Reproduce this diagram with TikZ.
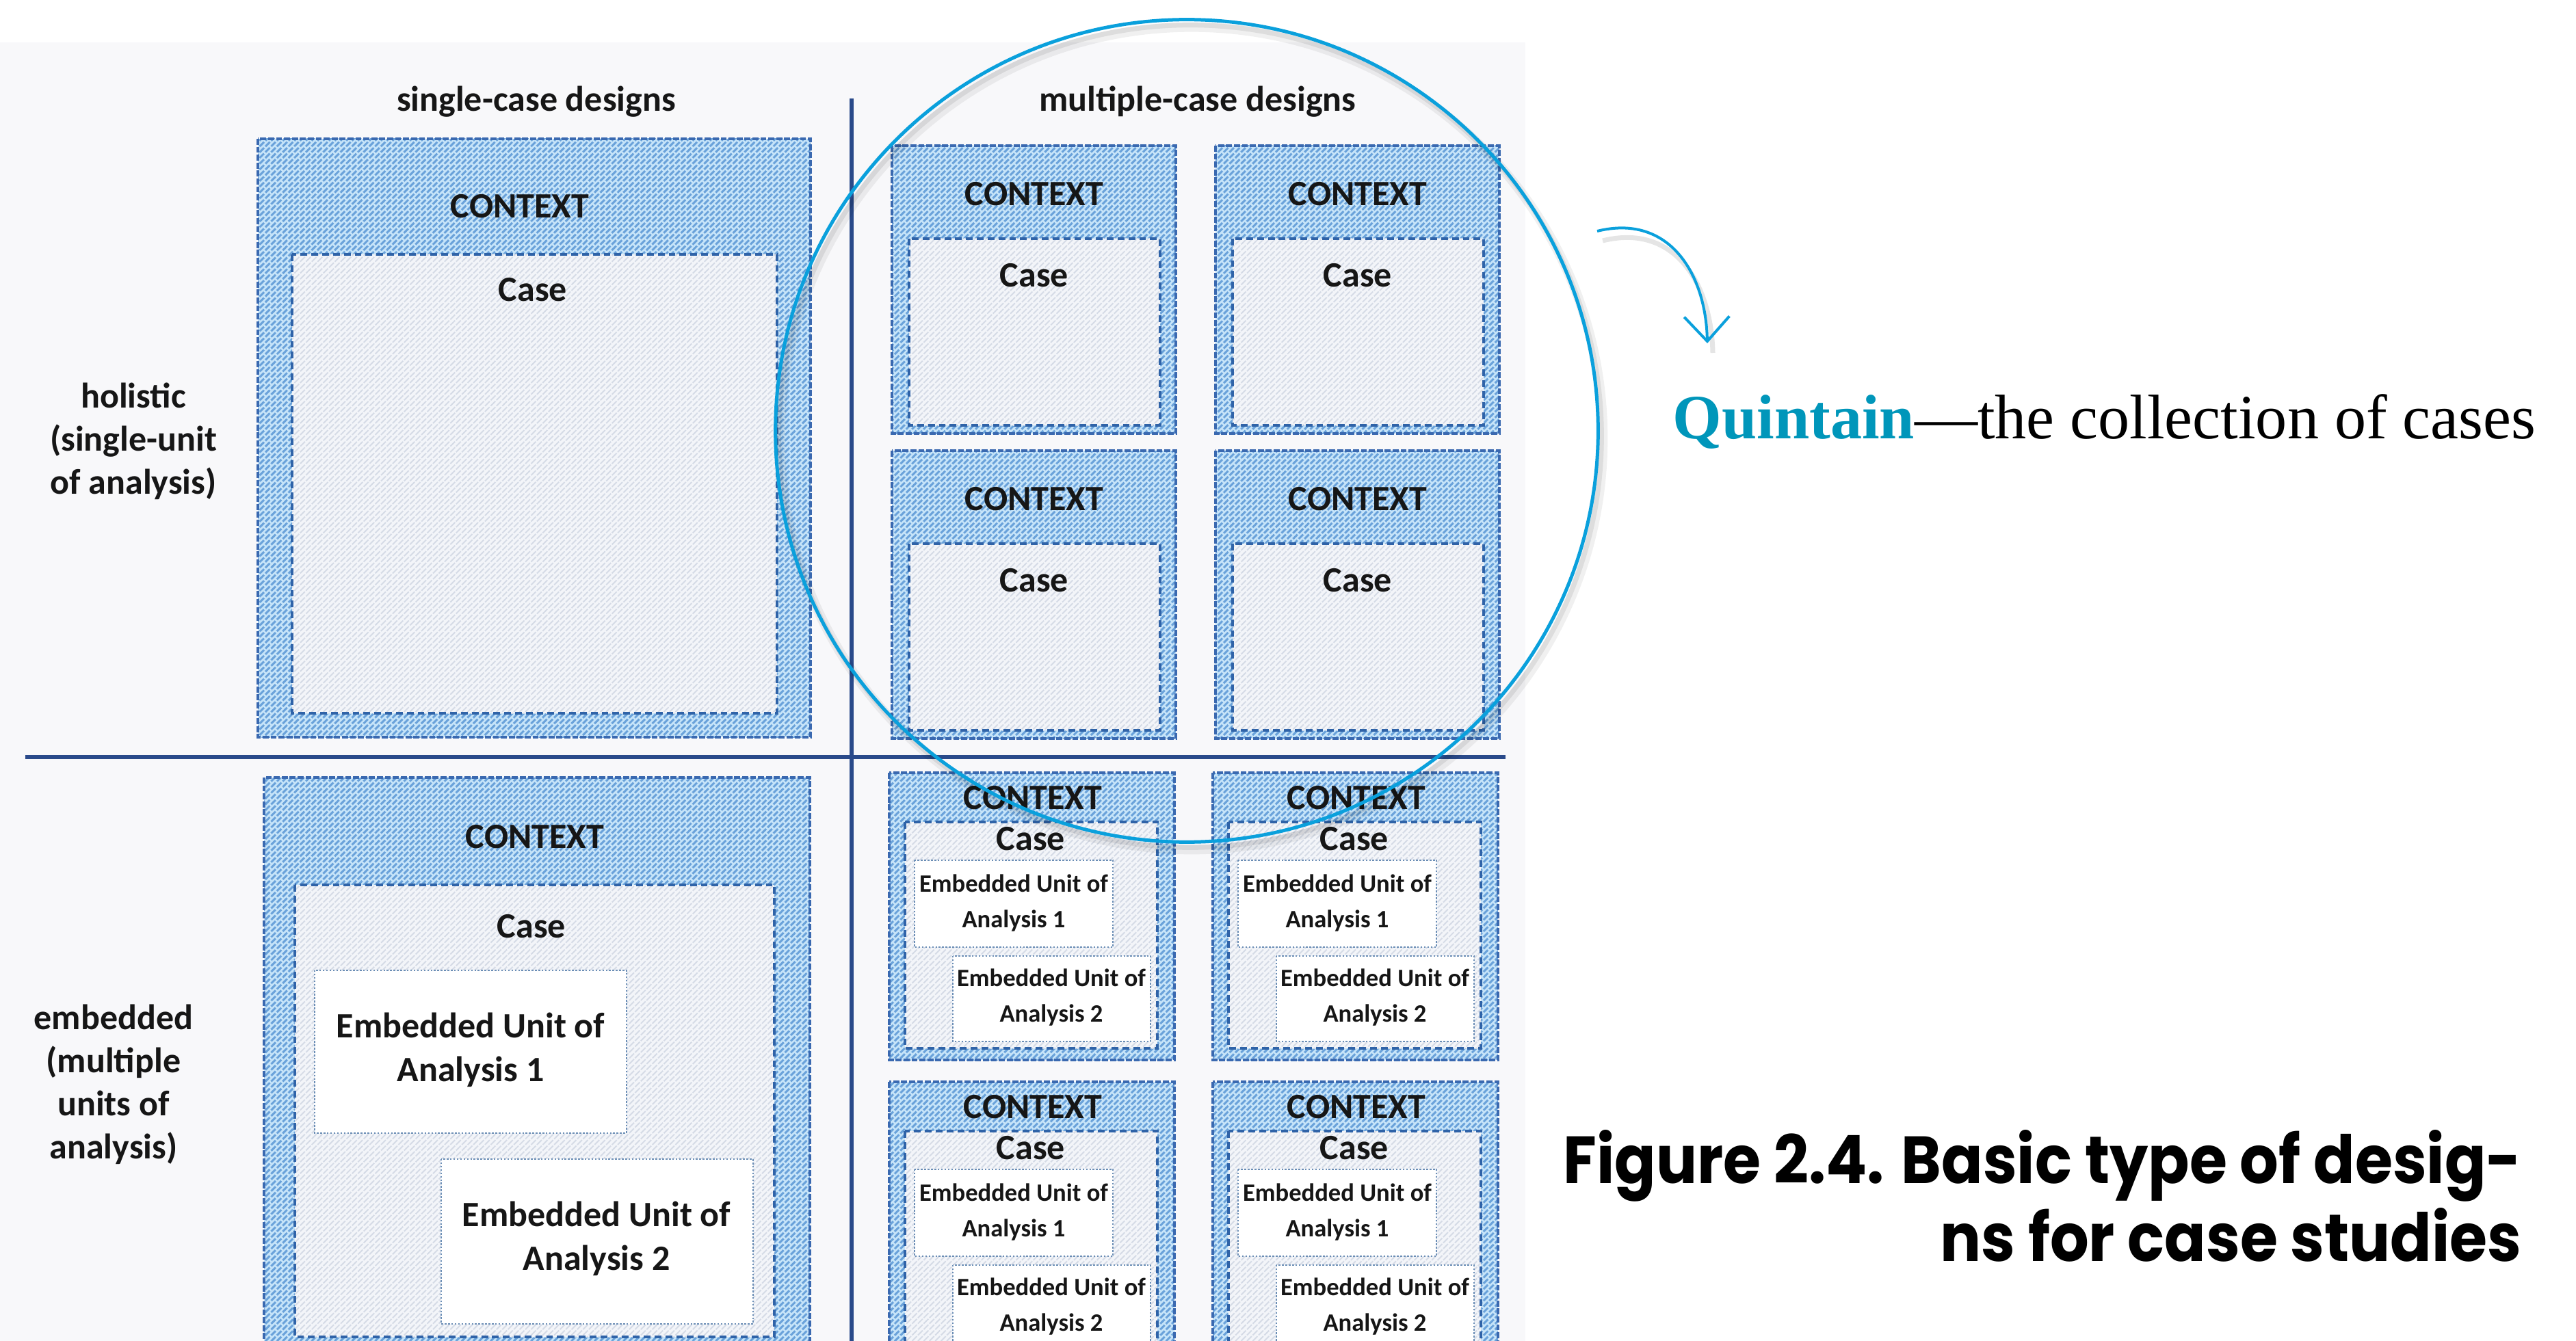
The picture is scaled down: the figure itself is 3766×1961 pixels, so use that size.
\documentclass[tikz,border=0pt]{standalone}
\usepackage{fontspec}
\setmainfont{Carlito}
\newfontfamily\serifq{Liberation Serif}
\newfontfamily\capfont{Poppins}
\usetikzlibrary{patterns,arrows.meta}

\pgfdeclarepatternformonly{ctxhatch}{\pgfqpoint{-1pt}{-1pt}}{\pgfqpoint{3.5pt}{3.5pt}}{\pgfqpoint{2.4pt}{2.4pt}}{%
  \pgfsetlinewidth{0.85pt}%
  \pgfpathmoveto{\pgfqpoint{0pt}{0pt}}%
  \pgfpathlineto{\pgfqpoint{2.41pt}{2.41pt}}%
  \pgfusepath{stroke}}
\pgfdeclarepatternformonly{casehatch}{\pgfqpoint{-1pt}{-1pt}}{\pgfqpoint{3.5pt}{3.5pt}}{\pgfqpoint{2.4pt}{2.4pt}}{%
  \pgfsetlinewidth{0.55pt}%
  \pgfpathmoveto{\pgfqpoint{0pt}{0pt}}%
  \pgfpathlineto{\pgfqpoint{2.41pt}{2.41pt}}%
  \pgfusepath{stroke}}

\definecolor{ctxfill}{HTML}{C6E4F9}
\definecolor{ctxline}{HTML}{6AA2DA}
\definecolor{ctxedge}{HTML}{3A69B0}
\definecolor{casefill}{HTML}{F3F5F9}
\definecolor{caseline}{HTML}{D5DBE6}
\definecolor{caseedge}{HTML}{2F63A8}
\definecolor{euedge}{HTML}{6A8DB5}
\definecolor{gridline}{HTML}{2A4A8A}
\definecolor{quin}{HTML}{0AA0DC}
\definecolor{quintext}{HTML}{0096BA}
\definecolor{scanbg}{HTML}{F8F8FA}
\definecolor{ink}{HTML}{161616}

\tikzset{
  ctxbox/.style={preaction={fill=ctxfill}, pattern=ctxhatch, pattern color=ctxline,
    draw=ctxedge, line width=1.2pt, dash pattern=on 2.5pt off 0.8pt},
  casebox/.style={preaction={fill=casefill}, pattern=casehatch, pattern color=caseline,
    draw=caseedge, line width=1.1pt, dash pattern=on 2.8pt off 1.7pt},
  eubox/.style={fill=white, draw=euedge, line width=0.5pt, dash pattern=on 0.7pt off 0.7pt},
  lbl/.style={font=\bfseries\fontsize{14.8}{17.9}\selectfont, text=ink, align=center, inner sep=0pt},
  eulbl/.style={font=\bfseries\fontsize{10.4}{14.8}\selectfont, text=ink, align=center, inner sep=0pt},
  eulblbig/.style={font=\bfseries\fontsize{14.8}{18.2}\selectfont, text=ink, align=center, inner sep=0pt},
  holbox/.pic={
    \draw[ctxbox] (0,0) rectangle (415,421);
    \draw[casebox] (25,136) rectangle (392,409);
    \node[lbl] (-ctx) at (208,71) {CONTEXT};
    \node[lbl] (-case) at (208,190) {Case};
  },
  embbox/.pic={
    \draw[ctxbox] (0,0) rectangle (417,420);
    \draw[casebox] (23,72) rectangle (392,403);
    \node[lbl] (-ctx) at (210,37) {CONTEXT};
    \node[lbl] (-case) at (207,97) {Case};
    \draw[eubox] (37,128) rectangle (327,255);
    \node[eulbl] (-eu1) at (182,191) {Embedded Unit of\\Analysis 1};
    \draw[eubox] (93,268) rectangle (382,393);
    \node[eulbl] (-eu2) at (237,329) {Embedded Unit of\\Analysis 2};
  },
}

\begin{document}
\begin{tikzpicture}[x=0.01cm,y=-0.01cm]
\useasboundingbox (0,0) rectangle (3766,1961);
\clip (0,0) rectangle (3766,1961);
\fill[white] (0,0) rectangle (3766,1961);
\fill[scanbg] (0,62) rectangle (2230,1961);

% headers
\node[lbl] (h-single) at (784,149) {single-case designs};
\node[lbl] (h-multi) at (1751,149) {multiple-case designs};

% row labels
\node[lbl] (r-holistic) at (195,645) {holistic\\(single-unit\\of analysis)};
\node[lbl] (r-embedded) at (166,1586) {embedded\\(multiple\\units of\\analysis)};

% grid lines
\coordinate (hl-l) at (37,1107);
\coordinate (hl-r) at (2201,1107);
\coordinate (vl-t) at (1245,144);
\coordinate (vl-b) at (1245,1961);
\draw[gridline, line width=1.5pt] (vl-t) -- (vl-b);
\draw[gridline, line width=1.7pt] (hl-l) -- (hl-r);

% single holistic
\draw[ctxbox] (377,203) rectangle (1185,1078);
\draw[casebox] (427,372) rectangle (1136,1043);
\node[lbl] (hs-ctx) at (760,302) {CONTEXT};
\node[lbl] (hs-case) at (779,424) {Case};

% single embedded
\draw[ctxbox] (386,1137) rectangle (1184,2010);
\draw[casebox] (431,1294) rectangle (1132,1955);
\node[lbl] (es-ctx) at (782,1224) {CONTEXT};
\node[lbl] (es-case) at (777,1355) {Case};
\draw[eubox] (460,1419) rectangle (916,1657);
\node[eulblbig] (es-eu1) at (688,1535) {Embedded Unit of\\Analysis 1};
\draw[eubox] (645,1695) rectangle (1101,1936);
\node[eulblbig] (es-eu2) at (872,1811) {Embedded Unit of\\Analysis 2};

% multiple holistic
\pic (hm1) at (1304,213) {holbox};
\pic (hm2) at (1777,213) {holbox};
\pic (hm3) at (1304,659) {holbox};
\pic (hm4) at (1777,659) {holbox};

% multiple embedded
\pic (em1) at (1300,1130) {embbox};
\pic (em2) at (1773,1130) {embbox};
\pic (em3) at (1300,1582) {embbox};
\pic (em4) at (1773,1582) {embbox};

% quintain circle with soft shadow
\draw[black, opacity=0.06, line width=0.14cm] (1742,641) circle[radius=6.01cm];
\draw[black, opacity=0.08, line width=0.07cm] (1740,638) circle[radius=6.01cm];
\draw[quin, line width=0.05cm] (1735,630) circle[radius=6.01cm];

% arrow
\coordinate (arr-s) at (2335,338);
\coordinate (arr-e) at (2496,502);
\coordinate (arrsh-s) at (2343,352);
\coordinate (arrsh-e) at (2504,516);
\draw[black, opacity=0.10, line width=0.07cm] (arrsh-s) .. controls (2448,326) and (2502,414) .. (arrsh-e);
\draw[quin, line width=0.04cm, -{Straight Barb[length=0.36cm, width=0.66cm]}]
  (arr-s) .. controls (2440,312) and (2494,400) .. (arr-e);

% quintain text
\node[anchor=base west, inner sep=0pt, font=\serifq\fontsize{26.2}{30}\selectfont] (quintain) at (2445,641)
  {\textcolor{quintext}{\bfseries Quintain}—the collection of cases};

% caption
\node[anchor=base east, inner sep=0pt, font=\capfont\bfseries\fontsize{27.7}{32}\selectfont] (cap1) at (3687,1730)
  {\scalebox{0.915}[1]{Figure 2.4. Basic type of desig-}};
\node[anchor=base east, inner sep=0pt, font=\capfont\bfseries\fontsize{27.7}{32}\selectfont] (cap2) at (3687,1844)
  {\scalebox{0.915}[1]{ns for case studies}};
\end{tikzpicture}
\end{document}
